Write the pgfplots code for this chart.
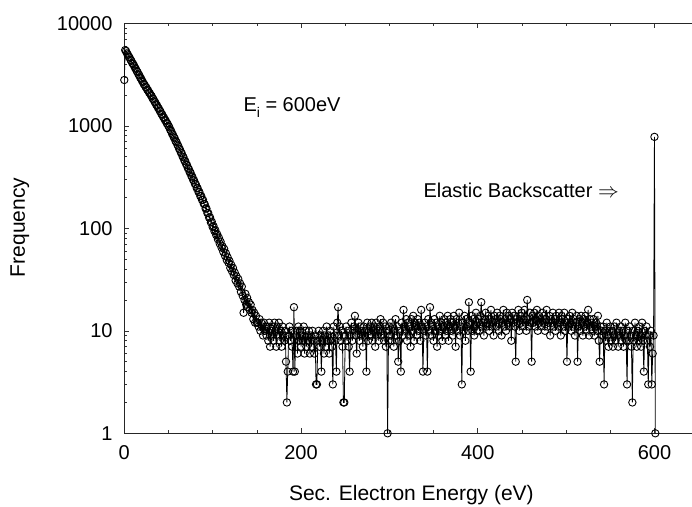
\documentclass[border=0pt]{standalone}
\usepackage{fontspec}
\setmainfont{Liberation Sans}
\usepackage{pgfplots}
\pgfplotsset{compat=1.18}
\usetikzlibrary{calc}
\begin{document}
\begin{tikzpicture}
\begin{axis}[
  scale only axis, width=569.9pt, height=410pt,
  xmin=0, xmax=645, ymin=1, ymax=10000, ymode=log,
  xtick={0,200,400,600}, xticklabels={0,200,400,600},
  minor xtick={50,100,150,250,300,350,450,500,550},
  ytick={1,10,100,1000,10000}, yticklabels={1,10,100,1000,10000},
  minor ytick={2,3,4,5,6,7,8,9,20,30,40,50,60,70,80,90,200,300,400,500,600,700,800,900,2000,3000,4000,5000,6000,7000,8000,9000},
  ytick pos=left, xtick pos=both,
  tick align=inside, major tick length=5pt, minor tick length=3pt,
  every tick/.style={black!80, line width=0.6pt},
  axis line style={black!85, line width=0.9pt},
  tick label style={font=\fontsize{20}{24}\selectfont, inner sep=0pt},
  yticklabel style={xshift=-11.6pt},
  xticklabel style={yshift=-11.7pt},
]
\addplot[black, line width=0.8pt, mark=o, mark size=3.7pt, mark options={line width=0.9pt}] coordinates {
(0,2800) (1,5480) (2,5350) (3,5090) (4,4960) (5,4720) (6,4630) (7,4410) (8,4310) (9,4090) (10,4010)
(11,3870) (12,3690) (13,3600) (14,3430) (15,3350) (16,3180) (17,3110) (18,2950) (19,2890) (20,2750)
(21,2680) (22,2560) (23,2510) (24,2400) (25,2360) (26,2250) (27,2210) (28,2110) (29,2070) (30,1990)
(31,1945) (32,1850) (33,1815) (34,1730) (35,1695) (36,1612) (37,1584) (38,1505) (39,1478) (40,1405)
(41,1378) (42,1305) (43,1286) (44,1218) (45,1199) (46,1137) (47,1121) (48,1060) (49,1047) (50,992)
(51,968) (52,912) (53,891) (54,838) (55,821) (56,772) (57,757) (58,709) (59,697) (60,655)
(61,640) (62,598) (63,588) (64,548) (65,539) (66,501) (67,494) (68,458) (69,452) (70,421)
(71,414) (72,385) (73,380) (74,352) (75,349) (76,322) (77,319) (78,295) (79,293) (80,270)
(81,268) (82,246) (83,246) (84,226) (85,226) (86,206) (87,207) (88,189) (89,190) (90,173)
(91,172) (92,156) (93,156) (94,141) (95,141) (96,127) (97,128) (98,114) (99,116) (100,103)
(101,105) (102,94) (103,96) (104,86) (105,88) (106,78) (107,81) (108,71) (109,74) (110,65)
(111,67) (112,59) (113,63) (114,54) (115,57) (116,49) (117,52) (118,46) (119,48) (120,41)
(121,44) (122,38) (123,41) (124,35) (125,37) (126,31) (127,34) (128,29) (129,32) (130,27)
(131,29) (132,24) (133,27) (134,22) (135,15) (136,20) (137,23) (138,18) (139,21) (140,17)
(141,19) (142,16) (143,18) (144,15) (145,16) (146,13) (147,15) (148,12) (149,14) (150,12)
(151,12) (152,11) (153,13) (154,10) (155,12) (156,11) (157,9) (158,12) (159,10) (160,11)
(161,9) (162,11) (163,8) (164,12) (165,7) (166,10) (167,9) (168,11) (169,8) (170,12)
(171,10) (172,7) (173,11) (174,9) (175,12) (176,8) (177,10) (178,7) (179,11) (180,9)
(181,8) (182,10) (183,5) (184,2) (185,4) (186,9) (187,11) (188,8) (189,10) (190,7)
(191,4) (192,17) (193,4) (194,9) (195,10) (196,6) (197,11) (198,8) (199,10) (200,7)
(201,9) (202,8) (203,11) (204,6) (205,10) (206,7) (207,9) (208,8) (209,10) (210,6)
(211,9) (212,7) (213,10) (214,8) (215,6) (216,9) (217,3) (218,3) (219,8) (220,10)
(221,7) (222,9) (223,4) (224,8) (225,10) (226,6) (227,9) (228,7) (229,11) (230,8)
(231,9) (232,6) (233,10) (234,8) (235,7) (236,3) (237,11) (238,9) (239,8) (240,4)
(241,12) (242,17) (243,9) (244,11) (245,8) (246,10) (247,7) (248,2) (249,2) (250,9)
(251,11) (252,8) (253,10) (254,7) (255,4) (256,9) (257,12) (258,8) (259,10) (260,11)
(261,14) (262,9) (263,6) (264,10) (265,12) (266,8) (267,11) (268,9) (269,10) (270,7)
(271,11) (272,9) (273,10) (274,4) (275,12) (276,8) (277,10) (278,11) (279,9) (280,12)
(281,8) (282,10) (283,11) (284,7) (285,12) (286,9) (287,10) (288,8) (289,11) (290,13)
(291,9) (292,10) (293,12) (294,8) (295,11) (296,7) (297,10) (298,1) (299,8) (300,11)
(301,9) (302,12) (303,8) (304,11) (305,7) (306,10) (307,13) (308,9) (309,11) (310,5)
(311,8) (312,10) (313,4) (314,12) (315,9) (316,16) (317,11) (318,10) (319,13) (320,8)
(321,12) (322,9) (323,11) (324,7) (325,13) (326,10) (327,14) (328,8) (329,12) (330,11)
(331,9) (332,13) (333,10) (334,12) (335,8) (336,16) (337,11) (338,4) (339,10) (340,12)
(341,9) (342,11) (343,4) (344,13) (345,10) (346,17) (347,12) (348,9) (349,11) (350,8)
(351,13) (352,10) (353,12) (354,7) (355,11) (356,9) (357,14) (358,10) (359,12) (360,8)
(361,11) (362,13) (363,9) (364,12) (365,10) (366,14) (367,8) (368,11) (369,13) (370,10)
(371,12) (372,9) (373,14) (374,11) (375,7) (376,13) (377,10) (378,12) (379,15) (380,9)
(381,11) (382,3) (383,12) (384,10) (385,14) (386,8) (387,13) (388,11) (389,10) (390,19)
(391,12) (392,4) (393,14) (394,10) (395,13) (396,9) (397,11) (398,15) (399,10) (400,12)
(401,13) (402,10) (403,14) (404,19) (405,11) (406,12) (407,9) (408,13) (409,15) (410,11)
(411,12) (412,14) (413,10) (414,13) (415,16) (416,11) (417,12) (418,9) (419,14) (420,13)
(421,11) (422,15) (423,12) (424,10) (425,14) (426,13) (427,9) (428,12) (429,16) (430,11)
(431,13) (432,10) (433,15) (434,12) (435,14) (436,11) (437,13) (438,8) (439,15) (440,12)
(441,14) (442,11) (443,5) (444,13) (445,12) (446,16) (447,10) (448,14) (449,12) (450,15)
(451,11) (452,13) (453,16) (454,12) (455,10) (456,20) (457,13) (458,11) (459,15) (460,12)
(461,5) (462,14) (463,12) (464,15) (465,11) (466,13) (467,16) (468,10) (469,14) (470,12)
(471,13) (472,11) (473,15) (474,12) (475,14) (476,10) (477,13) (478,16) (479,11) (480,12)
(481,14) (482,9) (483,13) (484,12) (485,15) (486,11) (487,13) (488,10) (489,14) (490,12)
(491,11) (492,15) (493,12) (494,9) (495,14) (496,13) (497,11) (498,15) (499,10) (500,12)
(501,5) (502,13) (503,11) (504,14) (505,12) (506,10) (507,15) (508,11) (509,13) (510,9)
(511,12) (512,14) (513,5) (514,11) (515,13) (516,10) (517,14) (518,12) (519,9) (520,13)
(521,11) (522,14) (523,10) (524,12) (525,16) (526,9) (527,13) (528,11) (529,12) (530,10)
(531,13) (532,9) (533,11) (534,12) (535,10) (536,14) (537,8) (538,5) (539,11) (540,10)
(541,9) (542,11) (543,3) (544,10) (545,8) (546,12) (547,9) (548,7) (549,10) (550,11)
(551,8) (552,10) (553,7) (554,9) (555,11) (556,8) (557,12) (558,9) (559,7) (560,10)
(561,9) (562,11) (563,8) (564,10) (565,7) (566,9) (567,12) (568,8) (569,3) (570,10)
(571,8) (572,11) (573,9) (574,7) (575,2) (576,10) (577,8) (578,12) (579,9) (580,7)
(581,10) (582,8) (583,11) (584,9) (585,7) (586,12) (587,8) (588,4) (589,10) (590,9)
(591,11) (592,8) (593,3) (594,9) (595,7) (596,10) (597,3) (598,6) (599,9) (600,780)
(601,1)
};
\coordinate (SW) at (rel axis cs:0,0);
\end{axis}
\node[anchor=base, inner sep=0pt, font=\fontsize{21}{25}\selectfont] at ($(SW)+(287.1pt,-66.7pt)$) {Sec. Electron Energy (eV)};
\node[anchor=base, rotate=90, inner sep=0pt, font=\fontsize{21}{25}\selectfont] at ($(SW)+(-99.3pt,205.8pt)$) {Frequency};
\node[anchor=base west, inner sep=0pt, font=\fontsize{20}{24}\selectfont] at ($(SW)+(119pt,321.6pt)$) {E\raisebox{-6pt}{\fontsize{14}{14}\selectfont i} = 600eV};
\node[anchor=base west, inner sep=0pt, font=\fontsize{20}{24}\selectfont] at ($(SW)+(299pt,235.6pt)$) {Elastic Backscatter $\Rightarrow$};
\pgfresetboundingbox
\path ($(SW)+(-124.3pt,-72.7pt)$) rectangle ($(SW)+(567.7pt,433.3pt)$);
\end{tikzpicture}
\end{document}
